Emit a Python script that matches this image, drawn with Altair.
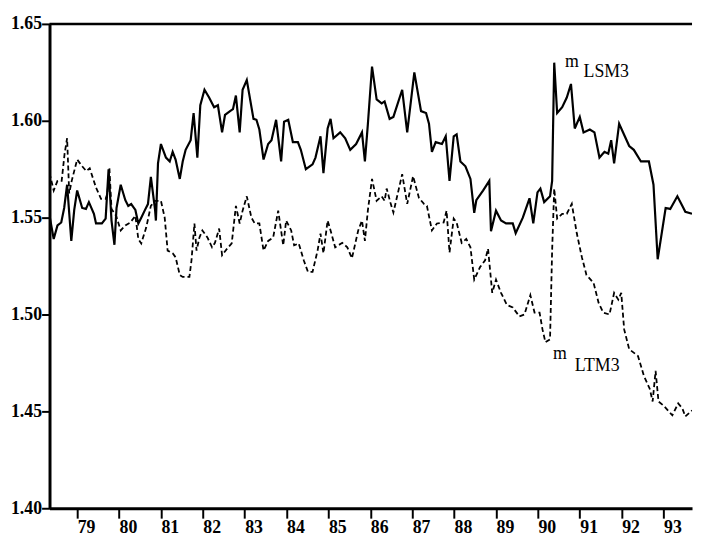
import altair as alt
import pandas as pd

# m_LSM3 (solid)
lsm_t = [78.34, 78.44, 78.53, 78.62, 78.69, 78.76, 78.86, 78.93, 79.00, 79.12, 79.21, 79.28,
         79.40, 79.45, 79.59, 79.68, 79.75, 79.82, 79.89, 79.94, 80.04, 80.15, 80.22, 80.29,
         80.39, 80.46, 80.53, 80.62, 80.69, 80.76, 80.86, 80.88, 80.93, 81.00, 81.12, 81.21,
         81.28, 81.35, 81.45, 81.52, 81.59, 81.71, 81.78, 81.87, 81.94, 82.04, 82.15, 82.27,
         82.36, 82.46, 82.53, 82.65, 82.72, 82.79, 82.88, 82.95, 83.05, 83.21, 83.28, 83.35,
         83.45, 83.56, 83.64, 83.75, 83.87, 83.94, 84.04, 84.15, 84.27, 84.34, 84.46, 84.62,
         84.69, 84.81, 84.88, 84.98, 85.05, 85.12, 85.28, 85.40, 85.52, 85.66, 85.80, 85.87,
         85.94, 86.04, 86.15, 86.27, 86.34, 86.46, 86.55, 86.76, 86.88, 87.05, 87.21, 87.33,
         87.40, 87.47, 87.56, 87.71, 87.80, 87.89, 87.99, 88.06, 88.15, 88.27, 88.39, 88.48,
         88.53, 88.69, 88.84, 88.88, 89.00, 89.12, 89.24, 89.40, 89.47, 89.64, 89.80, 89.89,
         89.99, 90.06, 90.15, 90.29, 90.34, 90.39, 90.46, 90.58, 90.69, 90.79, 90.88, 91.00,
         91.09, 91.24, 91.35, 91.47, 91.59, 91.68, 91.75, 91.82, 91.94, 92.18, 92.29, 92.46,
         92.65, 92.76, 92.86, 93.05, 93.16, 93.33, 93.45, 93.52, 93.68]
lsm_v = [1.551, 1.539, 1.546, 1.5475, 1.555, 1.567, 1.538, 1.554, 1.564, 1.555, 1.5545, 1.558,
         1.552, 1.547, 1.547, 1.5495, 1.575, 1.5485, 1.536, 1.555, 1.567, 1.559, 1.556, 1.557,
         1.554, 1.547, 1.550, 1.554, 1.557, 1.571, 1.554, 1.5485, 1.578, 1.588, 1.581, 1.579,
         1.584, 1.580, 1.570, 1.579, 1.585, 1.590, 1.604, 1.581, 1.608, 1.616, 1.612, 1.607,
         1.608, 1.594, 1.603, 1.605, 1.606, 1.613, 1.594, 1.616, 1.621, 1.601, 1.6005, 1.5955,
         1.580, 1.588, 1.590, 1.6005, 1.579, 1.5995, 1.6005, 1.589, 1.589, 1.585, 1.575, 1.5775,
         1.581, 1.592, 1.573, 1.596, 1.601, 1.591, 1.594, 1.591, 1.585, 1.588, 1.594, 1.579,
         1.598, 1.628, 1.611, 1.609, 1.610, 1.601, 1.602, 1.616, 1.594, 1.625, 1.605, 1.604,
         1.5985, 1.584, 1.589, 1.588, 1.592, 1.569, 1.592, 1.593, 1.579, 1.5765, 1.570, 1.5525,
         1.559, 1.564, 1.569, 1.543, 1.5536, 1.5485, 1.547, 1.547, 1.542, 1.550, 1.560, 1.547,
         1.563, 1.565, 1.558, 1.561, 1.569, 1.630, 1.604, 1.607, 1.612, 1.619, 1.596, 1.602,
         1.594, 1.5955, 1.594, 1.581, 1.584, 1.583, 1.590, 1.578, 1.5985, 1.587, 1.585, 1.579,
         1.579, 1.567, 1.5285, 1.555, 1.5545, 1.561, 1.556, 1.553, 1.552]

# m_LTM3 (dashed)
ltm_t = [78.34, 78.44, 78.53, 78.63, 78.70, 78.76, 78.81, 78.87, 79.00, 79.12, 79.22, 79.30,
         79.45, 79.57, 79.68, 79.72, 79.77, 79.82, 79.93, 80.04, 80.15, 80.27, 80.39, 80.46,
         80.53, 80.65, 80.76, 80.86, 80.93, 81.00, 81.09, 81.16, 81.28, 81.35, 81.45, 81.52,
         81.68, 81.73, 81.80, 81.85, 81.92, 81.99, 82.11, 82.22, 82.29, 82.39, 82.46, 82.58,
         82.69, 82.79, 82.88, 82.95, 83.05, 83.16, 83.24, 83.35, 83.45, 83.56, 83.68, 83.80,
         83.92, 83.99, 84.11, 84.18, 84.29, 84.41, 84.51, 84.62, 84.74, 84.81, 84.88, 84.98,
         85.05, 85.16, 85.33, 85.45, 85.56, 85.71, 85.80, 85.87, 85.94, 86.04, 86.15, 86.27,
         86.34, 86.39, 86.48, 86.55, 86.76, 86.88, 87.02, 87.16, 87.28, 87.35, 87.47, 87.59,
         87.75, 87.82, 87.89, 87.99, 88.06, 88.18, 88.29, 88.39, 88.48, 88.62, 88.74, 88.81,
         88.91, 89.00, 89.12, 89.26, 89.40, 89.56, 89.68, 89.82, 89.92, 90.04, 90.11, 90.18,
         90.29, 90.34, 90.39, 90.46, 90.58, 90.69, 90.81, 90.93, 91.05, 91.16, 91.33, 91.45,
         91.56, 91.71, 91.82, 91.92, 91.99, 92.06, 92.18, 92.39, 92.53, 92.67, 92.74, 92.81,
         92.88, 93.00, 93.21, 93.35, 93.45, 93.52, 93.68]
ltm_v = [1.573, 1.564, 1.569, 1.569, 1.583, 1.591, 1.5625, 1.569, 1.580, 1.5765, 1.574, 1.5755,
         1.5655, 1.5597, 1.5597, 1.5622, 1.5755, 1.5545, 1.551, 1.5434, 1.546, 1.5475, 1.551, 1.539,
         1.5367, 1.545, 1.5561, 1.5587, 1.5587, 1.5587, 1.550, 1.533, 1.5316, 1.5296, 1.5204, 1.5194,
         1.5194, 1.528, 1.547, 1.533, 1.5398, 1.5434, 1.5398, 1.5347, 1.537, 1.5444, 1.5306, 1.534,
         1.5367, 1.5561, 1.547, 1.5536, 1.561, 1.550, 1.547, 1.547, 1.533, 1.538, 1.5398, 1.5536,
         1.5357, 1.5485, 1.5434, 1.5357, 1.5367, 1.528, 1.522, 1.522, 1.533, 1.5418, 1.5316, 1.5485,
         1.5434, 1.5347, 1.537, 1.5347, 1.529, 1.5434, 1.5485, 1.538, 1.5536, 1.570, 1.5587, 1.561,
         1.5587, 1.565, 1.5577, 1.5526, 1.5724, 1.5571, 1.5714, 1.5602, 1.5571, 1.5561, 1.5434, 1.547,
         1.5475, 1.5536, 1.532, 1.5495, 1.5475, 1.537, 1.539, 1.5347, 1.518, 1.5245, 1.528, 1.534,
         1.5112, 1.518, 1.5112, 1.505, 1.5036, 1.499, 1.500, 1.510, 1.501, 1.501, 1.4923, 1.4857,
         1.4872, 1.533, 1.565, 1.5495, 1.552, 1.552, 1.5571, 1.5418, 1.5296, 1.5204, 1.5163, 1.506,
         1.501, 1.500, 1.5112, 1.5077, 1.5112, 1.4923, 1.4821, 1.4786, 1.4684, 1.4617, 1.4551, 1.4709,
         1.4551, 1.453, 1.448, 1.4541, 1.4515, 1.4474, 1.4505]

x_ticks = list(range(79, 94))
y_ticks = [1.40, 1.45, 1.50, 1.55, 1.60, 1.65]

lab_text = ["m", "LSM3", "m", "LTM3"]
lab_t = [90.65, 91.09, 90.36, 90.88]
lab_v = [1.628, 1.6224, 1.477, 1.4709]

lsm = pd.DataFrame({"t": lsm_t, "v": lsm_v})
ltm = pd.DataFrame({"t": ltm_t, "v": ltm_v})
labs = pd.DataFrame({"t": lab_t, "v": lab_v, "text": lab_text})

xs = alt.Scale(domain=[78.34, 93.68], nice=False, zero=False)
ys = alt.Scale(domain=[1.40, 1.65], nice=False, zero=False)

X = alt.X("t:Q", scale=xs, title=None,
          axis=alt.Axis(values=x_ticks, format="d", tickSize=10, labelAlign="left",
                        labelPadding=1))
Y = alt.Y("v:Q", scale=ys, title=None,
          axis=alt.Axis(values=y_ticks, format=".2f", tickSize=8, labelPadding=0))

solid = alt.Chart(lsm).mark_line(color="black", strokeWidth=2.2, clip=True).encode(x=X, y=Y)
dashed = alt.Chart(ltm).mark_line(color="black", strokeWidth=1.8, strokeDash=[5, 3],
                                  clip=True).encode(x=X, y=Y)
top = alt.Chart(pd.DataFrame({"v": [1.65]})).mark_rule(color="black", strokeWidth=2.5).encode(
    y=alt.Y("v:Q", scale=ys))
text = alt.Chart(labs).mark_text(align="left", baseline="alphabetic", font="Liberation Serif",
                                 fontSize=18, color="black").encode(
    x=alt.X("t:Q", scale=xs), y=alt.Y("v:Q", scale=ys), text="text:N")

chart = alt.layer(dashed, solid, top, text).properties(
    width=650, height=490,
    autosize=alt.AutoSizeParams(type="none"),
    padding={"left": 42, "top": 13, "right": 2, "bottom": 27},
).configure_view(stroke=None).configure_axis(
    grid=False, domainColor="black", domainWidth=3, tickColor="black", tickWidth=2,
    labelColor="black", labelFont="Liberation Serif", labelFontSize=18, labelFontWeight="bold",
)

chart.save("out.html", embed_options={"renderer": "svg", "actions": False})
